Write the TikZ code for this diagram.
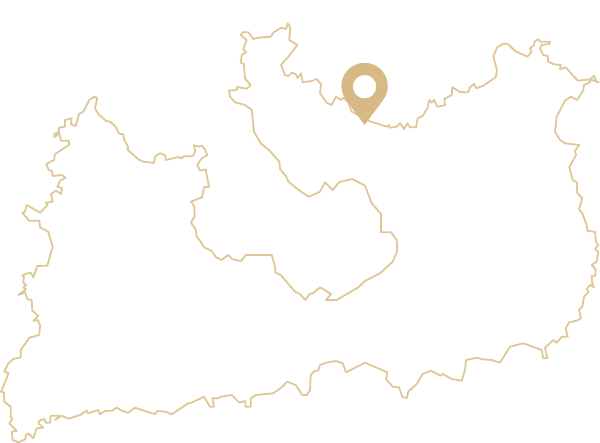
\documentclass[tikz,border=0pt]{standalone}
\usetikzlibrary{calc}
\definecolor{mapgold}{HTML}{E0C798}
\definecolor{pingold}{HTML}{D6B985}
\tikzset{
    mapline/.style={draw=mapgold,line width=1.8pt,line join=round},
    pinfill/.style={fill=pingold,even odd rule}
}

\begin{document}
\begin{tikzpicture}[x=1pt,y=1pt]
    \useasboundingbox (0,0) rectangle (600,443);
    \begin{scope}[y=-1pt,yshift=443pt]
        \draw[mapline] (94.3,96.7) -- (97.3,98) -- (95,108.3) -- (98.3,114) -- (106,121) -- (110,121.7) -- (115.7,126.7) -- (119,133.7) -- (123.3,134.3) -- (124,139.3) -- (128.3,147.3) -- (127,149.3) -- (138.3,159.3) -- (143.3,161.7) -- (153.7,163) -- (155.3,156) -- (160.3,153.3) -- (165.3,155.3) -- (165.7,160) -- (178.3,157) -- (181.7,158.3) -- (184,156.3) -- (192.7,156.3) -- (195.3,151.7) -- (194,145.3) -- (198.7,146.7) -- (202,145.7) -- (205,149.3) -- (207.3,155.3) -- (201.7,158.3) -- (197.3,164.7) -- (200,170.7) -- (205.7,169.3) -- (209,186.7) -- (204,187.3) -- (202,197.3) -- (191,201.7) -- (194.3,206.7) -- (194.7,216) -- (191,222.7) -- (195.7,229.3) -- (196.7,236.7) -- (200,240.7)
        -- (204,247.3) -- (211.7,251) -- (216,257.3) -- (221.7,260) -- (228,255) -- (232.7,259.3) -- (241,261) -- (246,255) -- (271.7,255) -- (275,266.7) -- (275.3,272.3) -- (281,275.3) -- (295,291.7) -- (300,294) -- (305.3,300) -- (309.3,294.3) -- (313.3,293) -- (320,287.3) -- (331,294) -- (326,300) -- (336.7,300) -- (358.3,287.3) -- (365,281) -- (380,273.3) -- (392.7,261.7) -- (397.3,251) -- (396.7,240) -- (391,232.3) -- (381,232.3) -- (381,214) -- (371.7,203.3) -- (365,185.7) -- (352.3,179) -- (339.3,182) -- (332.7,190) -- (325,182.3) -- (320,191.7) -- (308.7,196.7) -- (300,191) -- (288.3,181.7)
        -- (286.7,177.3) -- (280,169) -- (279.3,161.7) -- (270,151) -- (260.7,143.3) -- (254,131.7) -- (251.7,110) -- (245,105) -- (235,102.3) -- (230,96.7) -- (229,90.7) -- (236.7,90) -- (237.3,87) -- (246.7,88.7) -- (250.7,85.3) -- (245,78.3) -- (244,64) -- (240.7,62.7) -- (241.7,55) -- (246,52.3) -- (243.3,49.3) -- (246.7,40) -- (240.7,35) -- (242.7,32.3) -- (248.3,32.3) -- (253.3,39) -- (258.3,37.7) -- (270.7,36.7) -- (273.3,32.7) -- (281,27.7) -- (286,29) -- (287.7,23.3) -- (290.3,27.7) -- (289.3,40) -- (297.3,45) -- (288.3,56.7) -- (281,65) -- (285,75) -- (288.3,76) -- (292,72.7) -- (296,74.3) -- (297.7,78.3) -- (301,73.3) -- (302.7,82.3) -- (311.7,81) -- (316.7,79) -- (321,84.3) -- (320,93.3) -- (326.7,102.7) -- (331.7,105) -- (336,96.7) -- (341,100) -- (343.3,97.7) -- (348,102) -- (351.7,111.7) -- (369.3,121) -- (386.7,126.7) -- (388.7,125) -- (390,127.7) -- (396.7,126.7) -- (400,123.3)
        -- (404,129) -- (407.3,123.3) -- (410,127.3) -- (416,127.3) -- (417.7,118.3) -- (422.7,116) -- (427.3,108.3) -- (429.3,100) -- (431.7,102.7) -- (434,100) -- (437.3,106.7) -- (445,105.3) -- (444.3,99) -- (451.7,95) -- (452.3,87.3) -- (460,92) -- (468.3,92.3) -- (470,87.3) -- (474,84) -- (476.3,88.3) -- (483.3,85.7) -- (495.7,77.3) -- (497,70) -- (493.3,56.7) -- (497.3,47.3) -- (503.3,43.7) -- (508.3,44.3) -- (515,51) -- (527.3,56.7) -- (531.7,51.7) -- (530,48.3) -- (534.3,45) -- (534.3,41.7) -- (538.3,39.3) -- (540,41.7) -- (550,41.7) -- (549.3,44) -- (541.7,45) -- (540,48.3) -- (543.3,55) -- (547.7,56) -- (548.3,61.7) -- (554,64.3) -- (560.7,65) -- (560,69.3) -- (565.7,67.3) -- (577.7,80.7) -- (590,79.3) -- (594,75.7) -- (596.7,82.3) -- (598.7,82.3) -- (590,79.3) -- (590,82.3) -- (584,85) -- (583.3,90) -- (577.3,100) -- (570.7,96.7) -- (565,100.7) -- (556.7,116.7) -- (555,131.7) -- (560,140) -- (565,143.3) -- (579.3,145) -- (575,150.7) -- (576,155) -- (569.3,167.3) -- (572.7,180) -- (577.3,182.7) -- (576.7,192.3) -- (582.3,198.3) -- (581.7,200)
        -- (579,209.3) -- (582.3,213.3) -- (586.7,225) -- (587.3,230.7) -- (595,232) -- (596,241.7) -- (598.3,245) -- (595,249) -- (598.3,251.7) -- (596.7,261.7) -- (591.7,265) -- (595.7,269.3) -- (595.3,275.7) -- (591.7,275.7) -- (592.3,283.3) -- (594,287.3) -- (590,285) -- (586.7,289) -- (588.3,292.3) -- (584,296.7) -- (582.3,306.7) -- (579,310) -- (581,318.3) -- (576.7,320.7) -- (569,322.3) -- (565.7,328.3) -- (567.7,336.7) -- (561.7,336.7) -- (556.7,342.7) -- (553.3,340) -- (545,347.7) -- (547.3,358.3) -- (543.3,358.3) -- (541.7,350) -- (523.3,343.3) -- (510,346.7) -- (500,362.7) -- (491.7,360) -- (481.7,359.3) -- (477.3,357.7) -- (466,360) -- (465,370) -- (461.7,380.7) -- (451.7,379) -- (442.7,374) -- (440.7,375.7) -- (430.7,370.7) -- (422.7,374)
        -- (416.7,384) -- (408.3,391.7) -- (406.7,398.3) -- (402.3,396.7) -- (399,387.3) -- (392.7,386.7) -- (386,379) -- (387.3,372.3) -- (365,362.7) -- (346,372.3) -- (342.7,363.3) -- (336,361) -- (326,362.7) -- (320,365) -- (318.3,370.7) -- (315,370.7) -- (310.7,375) -- (310,390) -- (306.7,395) -- (302.3,395) -- (295.7,385) -- (287.3,381.7) -- (281.7,387.3) -- (273.3,393.3) -- (256,395) -- (250.7,398.3) -- (250.7,406.7) -- (245.7,406.7) -- (245,401) -- (239.3,402.7) -- (231.7,395) -- (220.7,396.7) -- (218.3,398.3) -- (212.3,398.3) -- (214,406.7) -- (210,406.7) -- (204,396.7) -- (191.7,402.7)
        -- (188.3,403.3) -- (171.7,414.3) -- (165.7,411.7) -- (157.3,411) -- (155,414) -- (146.7,411.7) -- (135,407.7) -- (128.3,412.7) -- (121.7,410.7) -- (116.7,407.7) -- (111.7,410.7) -- (105,411) -- (100,414.3) -- (98.3,410) -- (88.3,413.3) -- (86.7,410.7) -- (80,415) -- (68.3,418.7) -- (61.7,415.7) -- (55,420) -- (60,415.7) -- (50.7,415.7) -- (50,422.7) -- (45.7,422.7) -- (44.3,419) -- (39.3,420.7) -- (38.3,423.3) -- (43.3,427.7) -- (36.7,428.3) -- (33.3,438.3) -- (28.3,433.3) -- (26,435) -- (25.3,439.3) -- (18.3,442.3) -- (12.7,440) -- (11.7,431.7) -- (16.7,431) -- (9.3,423.3) -- (12.3,419) -- (10.7,416.7) -- (10.7,406.7) -- (4.3,401.7) -- (4,392.3) -- (1,391.7) -- (7.3,376.7) -- (8.3,372.7) -- (4.3,371.7) -- (8.3,363.3) -- (13.3,359) -- (20.7,357.3) -- (20.7,350) -- (29.3,337.7) -- (39.3,335) -- (40,325) -- (37.7,320) -- (33.3,321) -- (38.3,315.7) -- (32.3,310.7) -- (31.7,300) -- (27.7,299.3) -- (25,292.3) -- (18.3,295) -- (26,289.3) -- (23.3,287.3) -- (26,285) -- (23.3,282.7) -- (24,276.7) -- (22.3,275.7) -- (25,274) -- (30.7,272.7) -- (33.3,277.3) -- (37.3,266)
        -- (47.3,265.7) -- (49.3,258.3) -- (52.7,246.7) -- (48.3,231.7) -- (40,227.3) -- (39.3,220.7) -- (29.3,220.7) -- (22.3,212.7) -- (25,211.7) -- (26.7,205) -- (40,212.7) -- (47.7,205) -- (45.7,202.7) -- (52.7,201.7) -- (51,194) -- (56,190.7) -- (61,194) -- (62,188.3) -- (57.3,186.7) -- (60,180.7) -- (65.7,177.7) -- (61.7,175) -- (52.7,176) -- (51.7,170.7) -- (49,170) -- (46,164.3) -- (54,160) -- (55,154) -- (69,145) -- (69,140.7) -- (61,140.7) -- (59.3,133.3) -- (54.3,137.3) -- (54.3,134) -- (59,131.7) -- (59,127.7) -- (65,126.7) -- (65,120) -- (71.7,118.3) -- (71,124.3) -- (75.7,126) -- (79,114) -- (83.3,111.7) -- (89.3,100) -- cycle;
    \end{scope}
    \coordinate (pin) at (364.6,357);
    \coordinate (pintip) at (364.6,318);
    \fill[pinfill] (pintip) -- ($(pin)+(-36.7:23.2)$) arc[start angle=-36.7,end angle=216.7,radius=23.2] -- cycle
        (364.6,356.3) circle[radius=11.8];
\end{tikzpicture}
\end{document}
